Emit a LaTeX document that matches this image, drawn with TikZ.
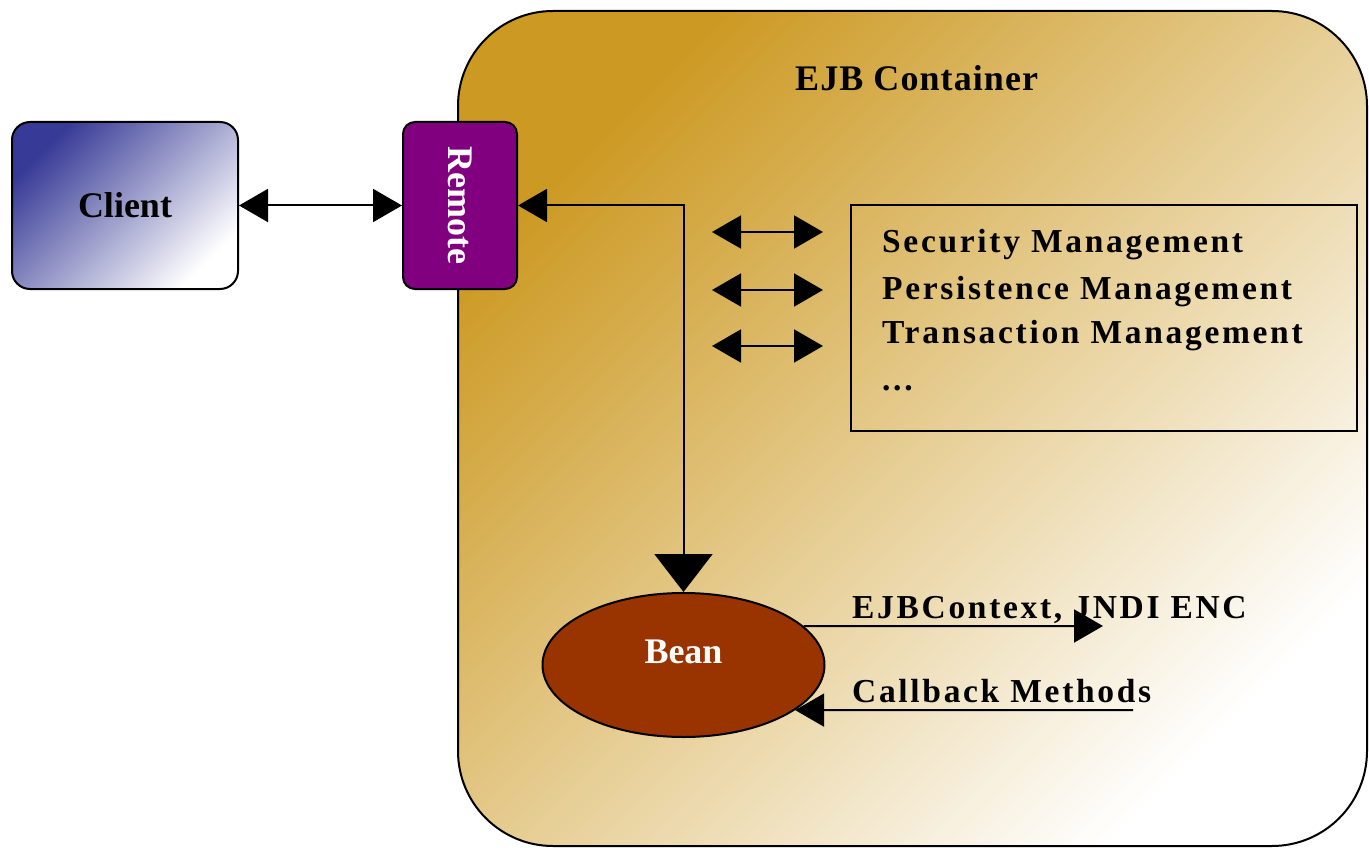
\documentclass[tikz,border=0pt]{standalone}
\usepackage{fontspec}
\setmainfont{Liberation Serif}
\newfontfamily\spacedfont[LetterSpace=8]{Liberation Serif}
\newfontfamily\titlefont[LetterSpace=3]{Liberation Serif}
\usetikzlibrary{arrows.meta,shapes.geometric}
\definecolor{gold}{RGB}{204,153,34}
\definecolor{goldmid}{RGB}{224,194,142}
\definecolor{navy}{RGB}{55,58,150}
\definecolor{navymid}{RGB}{165,165,205}
\definecolor{plum}{RGB}{128,0,128}
\definecolor{rust}{RGB}{153,51,0}
\tikzset{
  mtri/.tip={Triangle[length=29pt,width=33pt]},
  btri/.tip={Triangle[length=38pt,width=58pt]},
  conn/.style={line width=2pt},
  boxtext/.style={font=\fontsize{36}{40}\selectfont\bfseries},
  listtext/.style={font=\fontsize{33.5}{36}\selectfont\spacedfont\bfseries, anchor=base west, inner sep=0},
}
\begin{document}
\begin{tikzpicture}[x=1pt,y=-1pt]
\useasboundingbox (0,0) rectangle (1369,848);
\fill[white] (0,0) rectangle (1369,848);

% container with diagonal gold-to-white gradient
\node[draw, line width=2pt, rounded corners=95pt, minimum width=909pt, minimum height=835pt,
      inner sep=0, shading=axis, top color=gold, middle color=goldmid, bottom color=white,
      shading angle=45] (container) at (912.5,428.5) {};
\node[font=\fontsize{36}{40}\selectfont\titlefont\bfseries, anchor=base west, inner sep=0] (title) at (795,91) {EJB Container};

% client and remote interface
\node[draw, line width=2pt, rounded corners=18pt, minimum width=226pt, minimum height=167pt,
      inner sep=0, shading=axis, top color=navy, middle color=navymid, bottom color=white,
      shading angle=45, boxtext] (client) at (125,205.5) {Client};
\node[draw, line width=2pt, rounded corners=12pt, fill=plum, minimum width=114pt, minimum height=167pt,
      inner sep=0, text=white, boxtext] (remote) at (460,205.5) {\rotatebox{-90}{Remote}};

% bean
\node[draw, line width=2pt, ellipse, fill=rust, minimum width=282pt, minimum height=144pt,
      inner sep=0] (bean) at (683.5,665) {};
\node[boxtext, text=white, anchor=base] (beanlabel) at (683.5,663) {Bean};

% container services
\node[draw, line width=2pt, minimum width=506pt, minimum height=226pt, inner sep=0] (mgmt) at (1103.5,318) {};
\node[listtext] (sec) at (882,252) {Security Management};
\node[listtext] (per) at (882,299) {Persistence Management};
\node[listtext] (tra) at (882,343) {Transaction Management};
\node[listtext] (etc) at (882,390) {...};

\coordinate (s1) at (712,232); \coordinate (t1) at (823,232);
\coordinate (s2) at (712,290); \coordinate (t2) at (823,290);
\coordinate (s3) at (712,346); \coordinate (t3) at (823,346);

% connectors
\draw[conn, {mtri}-{mtri}] (client.east) -- (remote.west);
\draw[conn, {mtri}-{btri}] (remote.east) -| (bean.north);
\draw[conn, {mtri}-{mtri}] (s1) -- (t1);
\draw[conn, {mtri}-{mtri}] (s2) -- (t2);
\draw[conn, {mtri}-{mtri}] (s3) -- (t3);

% bean context and callbacks
\coordinate (ctx) at (1103,626);
\coordinate (cb) at (1133,710);
\draw[conn, -{mtri}] (bean.18) -- (ctx);
\draw[conn, -{mtri}] (cb) -- (bean.-22);
\node[listtext] (ctxlabel) at (852,618) {EJBContext, JNDI ENC};
\node[listtext] (cblabel) at (852,702) {Callback Methods};
\end{tikzpicture}
\end{document}
